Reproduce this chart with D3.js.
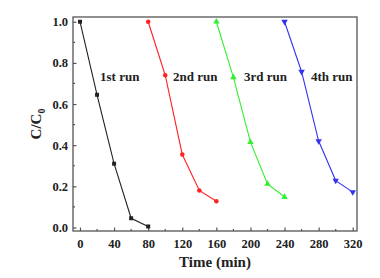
<!DOCTYPE html>
<html><head><meta charset="utf-8">
<script src="https://cdn.jsdelivr.net/npm/d3@7"></script>
<style>body{margin:0;background:#fff}svg{display:block}</style>
</head><body>
<script>
const run1X = [0, 20, 40, 60, 80];
const run1Y = [1.0, 0.645, 0.31, 0.045, 0.005];
const run2X = [80, 100, 120, 140, 160];
const run2Y = [1.0, 0.74, 0.355, 0.18, 0.128];
const run3X = [160, 180, 200, 220, 240];
const run3Y = [1.0, 0.73, 0.415, 0.212, 0.148];
const run4X = [240, 260, 280, 300, 320];
const run4Y = [1.0, 0.757, 0.42, 0.228, 0.172];
const seriesNames = ["1st run", "2nd run", "3rd run", "4th run"];
const xTicks = [0, 40, 80, 120, 160, 200, 240, 280, 320];
const yTicks = [0.0, 0.2, 0.4, 0.6, 0.8, 1.0];

const W = 380, H = 278;
const m = {l: 73, r: 23, t: 17, b: 47};
const svg = d3.select("body").append("svg").attr("width", W).attr("height", H);
const x = d3.scaleLinear().domain([-8.2, 325]).range([m.l, W - m.r]);
const y = d3.scaleLinear().domain([-0.017, 1.023]).range([H - m.b, m.t]);
const font = "'Liberation Serif','Times New Roman',serif";
const axisCol = "#555";

const series = [
  {name: seriesNames[0], xs: run1X, ys: run1Y, color: "#222", sym: d3.symbolSquare, rot: 0, lx: 100, ly: 81},
  {name: seriesNames[1], xs: run2X, ys: run2Y, color: "#f22", sym: d3.symbolCircle, rot: 0, lx: 173, ly: 81},
  {name: seriesNames[2], xs: run3X, ys: run3Y, color: "#3e3", sym: d3.symbolTriangle, rot: 0, lx: 244, ly: 81},
  {name: seriesNames[3], xs: run4X, ys: run4Y, color: "#33e", sym: d3.symbolTriangle, rot: 180, lx: 311, ly: 81}
];

// frame
svg.append("rect").attr("x", m.l).attr("y", m.t).attr("width", W - m.r - m.l).attr("height", H - m.b - m.t)
  .attr("fill", "none").attr("stroke", axisCol).attr("stroke-width", 1.3);

// x axis
const gx = svg.append("g").attr("transform", `translate(0,${H - m.b})`)
  .call(d3.axisBottom(x).tickValues(xTicks).tickSize(-3.5).tickPadding(8).tickFormat(d3.format("d")));
gx.select(".domain").remove();
gx.selectAll(".tick line").attr("stroke", axisCol).attr("stroke-width", 1.2);
gx.selectAll("text").attr("font-family", font).attr("font-weight", "bold").attr("font-size", 12.5).attr("fill", "#222");
const xMinor = d3.range(20, 320, 40);
svg.append("g").selectAll("line").data(xMinor).join("line")
  .attr("x1", d => x(d)).attr("x2", d => x(d)).attr("y1", H - m.b).attr("y2", H - m.b - 2)
  .attr("stroke", axisCol).attr("stroke-width", 1.2);

// y axis
const gy = svg.append("g").attr("transform", `translate(${m.l},0)`)
  .call(d3.axisLeft(y).tickValues(yTicks).tickSize(-3.5).tickPadding(5).tickFormat(d3.format(".1f")));
gy.select(".domain").remove();
gy.selectAll(".tick line").attr("stroke", axisCol).attr("stroke-width", 1.2);
gy.selectAll("text").attr("font-family", font).attr("font-weight", "bold").attr("font-size", 12.5).attr("fill", "#222");
const yMinor = d3.range(0.1, 1.0, 0.2);
svg.append("g").selectAll("line").data(yMinor).join("line")
  .attr("y1", d => y(d)).attr("y2", d => y(d)).attr("x1", m.l).attr("x2", m.l + 2)
  .attr("stroke", axisCol).attr("stroke-width", 1.2);

// series
const line = d3.line().x(d => x(d[0])).y(d => y(d[1]));
series.forEach(s => {
  const pts = s.xs.map((v, i) => [v, s.ys[i]]);
  svg.append("path").datum(pts).attr("d", line).attr("fill", "none")
    .attr("stroke", s.color).attr("stroke-width", 1.1);
  svg.append("g").selectAll("path").data(pts).join("path")
    .attr("d", d3.symbol().type(s.sym).size(s.sym === d3.symbolTriangle ? 18 : 16))
    .attr("transform", d => `translate(${x(d[0])},${y(d[1])}) rotate(${s.rot})`)
    .attr("fill", s.color);
  svg.append("text").attr("x", s.lx).attr("y", s.ly).text(s.name)
    .attr("font-family", font).attr("font-weight", "bold").attr("font-size", 13).attr("fill", "#222");
});

// axis titles
svg.append("text").attr("x", (m.l + W - m.r) / 2).attr("y", 267).attr("text-anchor", "middle")
  .attr("font-family", font).attr("font-weight", "bold").attr("font-size", 15).attr("fill", "#222").text("Time (min)");
const yt = svg.append("text").attr("transform", `translate(41,${(m.t + H - m.b) / 2}) rotate(-90)`)
  .attr("text-anchor", "middle").attr("font-family", font).attr("font-weight", "bold").attr("font-size", 15).attr("fill", "#222");
yt.append("tspan").text("C/C");
yt.append("tspan").attr("font-size", 10).attr("dy", 4).text("0");
</script>
</body></html>
